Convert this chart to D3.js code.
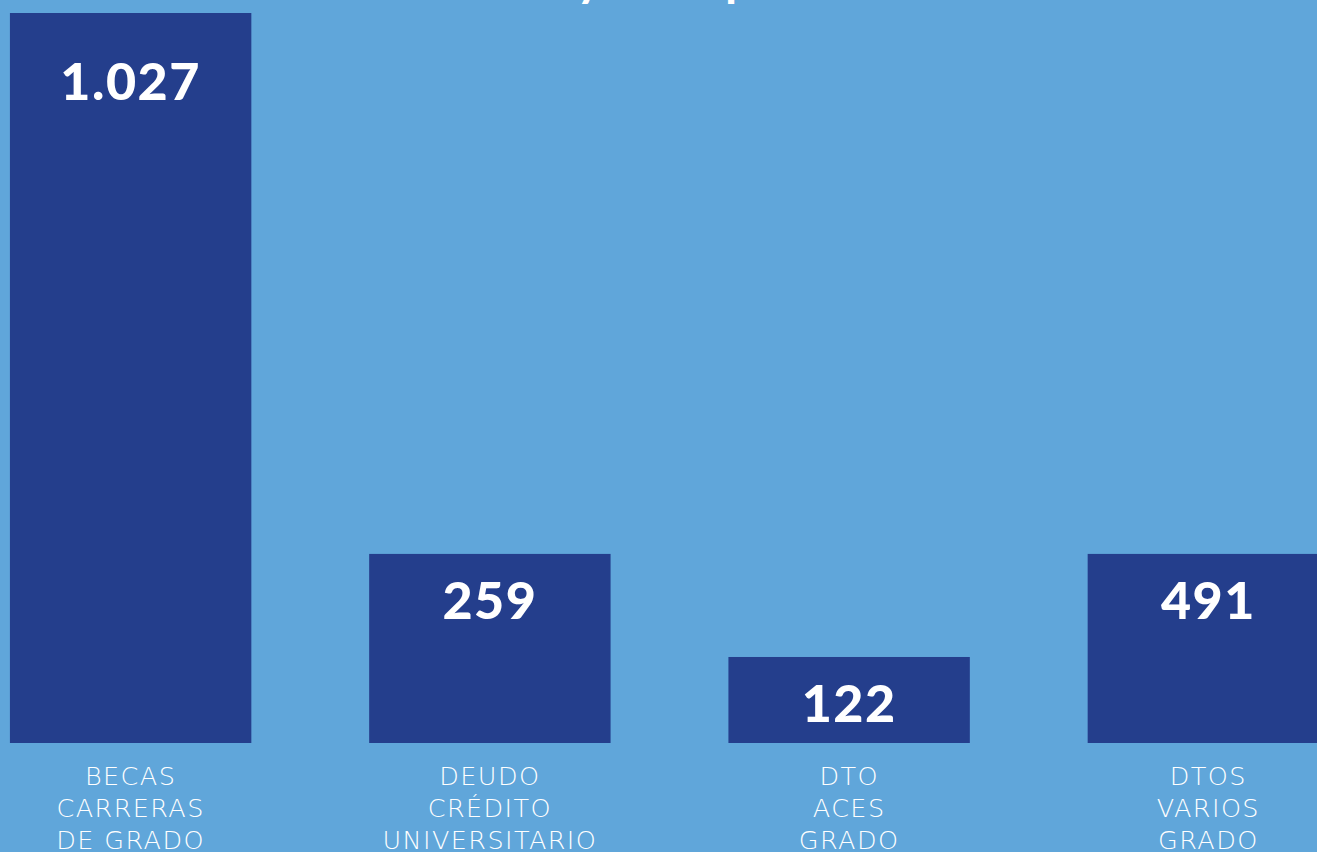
<!DOCTYPE html>
<html><head><meta charset="utf-8">
<script src="https://cdn.jsdelivr.net/npm/d3@7"></script>
<style>html,body{margin:0;padding:0;overflow:hidden;background:#60a6da;}svg{display:block;}</style>
</head><body>
<svg id="chart" width="1317" height="852"></svg>
<script>
// Data
const categories = [
  ["BECAS", "CARRERAS", "DE GRADO"],
  ["DEUDO", "CRÉDITO", "UNIVERSITARIO"],
  ["DTO", "ACES", "GRADO"],
  ["DTOS", "VARIOS", "GRADO"]
];
const values = [1027, 259, 122, 491];          // labelled values
const barLengths = [1027, 266, 121, 266];      // bar lengths as drawn in the picture (value units)
const titleText = "Becas y Dtos. por área";

const W = 1317, H = 852;
const svg = d3.select("#chart");
svg.append("rect").attr("width", W).attr("height", H).attr("fill", "#60a6da");

const baseline = 743;
const x = d3.scaleBand().domain(d3.range(values.length)).range([-49, 1388]).paddingInner(0.328).paddingOuter(0.164);
const y = d3.scaleLinear().domain([0, 1027]).range([baseline, 13]);

const fmt = d3.formatLocale({decimal: ",", thousands: ".", grouping: [3], currency: ["$", ""]}).format(",d");

// title (mostly cropped above the frame)
const title = svg.append("text").attr("y", -3).attr("fill", "#fff")
  .attr("font-family", "Lato, 'Open Sans', sans-serif").attr("font-weight", 900).attr("font-size", 44)
  .text(titleText);
const off = title.node().getSubStringLength(0, titleText.indexOf("y"));
title.attr("x", 577 - off);

const g = svg.append("g");
g.selectAll("rect.bar").data(barLengths).join("rect").attr("class", "bar")
  .attr("x", (d, i) => x(i)).attr("width", x.bandwidth())
  .attr("y", d => y(d)).attr("height", d => baseline - y(d))
  .attr("fill", "#243e8c");

g.selectAll("text.val").data(values).join("text").attr("class", "val")
  .attr("x", (d, i) => x(i) + x.bandwidth() / 2)
  .attr("y", (d, i) => { const t = y(barLengths[i]); return (baseline - t) > 400 ? t + 87 : t + 65; })
  .attr("text-anchor", "middle").attr("fill", "#fff")
  .attr("font-family", "Lato, 'Open Sans', sans-serif").attr("font-weight", 900).attr("font-size", 52)
  .attr("letter-spacing", 1.5)
  .text(d => fmt(d));

const labs = g.selectAll("text.cat").data(categories).join("text").attr("class", "cat")
  .attr("x", (d, i) => x(i) + x.bandwidth() / 2)
  .attr("y", baseline + 42)
  .attr("text-anchor", "middle").attr("fill", "#fff")
  .attr("font-family", "'DejaVu Sans', sans-serif").attr("font-weight", 200).attr("font-size", 25.5)
  .attr("letter-spacing", 1.4);
labs.selectAll("tspan").data(d => d).join("tspan")
  .attr("x", function() { return d3.select(this.parentNode).attr("x"); })
  .attr("dy", (d, j) => j === 0 ? 0 : 32)
  .text(d => d);
</script>
</body></html>
